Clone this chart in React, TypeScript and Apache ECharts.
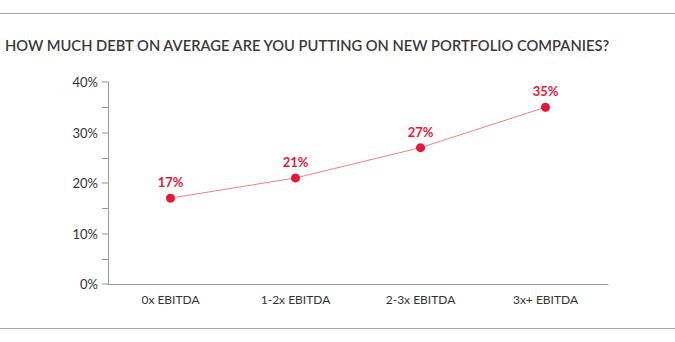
import React, { useEffect, useRef } from "react";
import * as echarts from "echarts";

const categories = ["0x EBITDA", "1-2x EBITDA", "2-3x EBITDA", "3x+ EBITDA"];
const debtValues = [17, 21, 27, 35];
const titleText = "HOW MUCH DEBT ON AVERAGE ARE YOU PUTTING ON NEW PORTFOLIO COMPANIES?";

export default function App() {
  const ref = useRef<HTMLDivElement>(null);
  useEffect(() => {
    if (!ref.current) return;
    const chart = echarts.init(ref.current, null, { renderer: "svg" });
    chart.setOption({
      animation: false,
      backgroundColor: "#fff",
      textStyle: { fontFamily: "Lato" },
      graphic: [
        { type: "line", shape: { x1: 0, y1: 13.5, x2: 675, y2: 13.5 }, style: { stroke: "#a8a8a8", lineWidth: 1 } },
        { type: "line", shape: { x1: 0, y1: 328.5, x2: 675, y2: 328.5 }, style: { stroke: "#a8a8a8", lineWidth: 1 } },
        {
          type: "text",
          left: 5,
          top: 37,
          style: { text: titleText, fill: "#3a3a3a", fontSize: 14.7, fontWeight: 600, fontFamily: "Lato" },
        },
      ],
      grid: { left: 108, right: 67, top: 82, bottom: 58 },
      xAxis: {
        type: "category",
        data: categories,
        boundaryGap: true,
        axisLine: { lineStyle: { color: "#9a9a9a", width: 1 } },
        axisTick: { show: false },
        axisLabel: { color: "#333", fontSize: 12, margin: 9, fontFamily: "Lato" },
      },
      yAxis: {
        type: "value",
        min: 0,
        max: 40,
        interval: 10,
        axisLine: { show: true, lineStyle: { color: "#9a9a9a", width: 1 } },
        axisTick: { show: true, length: 6, lineStyle: { color: "#c8c8c8", width: 2 } },
        minorTick: { show: true, splitNumber: 2, length: 6, lineStyle: { color: "#9a9a9a", width: 1 } },
        splitLine: { show: false },
        axisLabel: { color: "#333", fontSize: 13, margin: 10, formatter: "{value}%", fontFamily: "Lato" },
      },
      series: [
        {
          type: "line",
          data: debtValues,
          symbol: "circle",
          symbolSize: 9,
          itemStyle: { color: "#e8173a" },
          lineStyle: { color: "#f27d8e", width: 1 },
          label: {
            show: true,
            position: "top",
            distance: 5,
            formatter: "{c}%",
            color: "#e8173a",
            fontSize: 13,
            fontWeight: "bold",
            fontFamily: "Lato",
          },
        },
      ],
    });
    return () => chart.dispose();
  }, []);
  return <div ref={ref} style={{ position: "fixed", left: 0, top: 0, width: 675, height: 342 }} />;
}
